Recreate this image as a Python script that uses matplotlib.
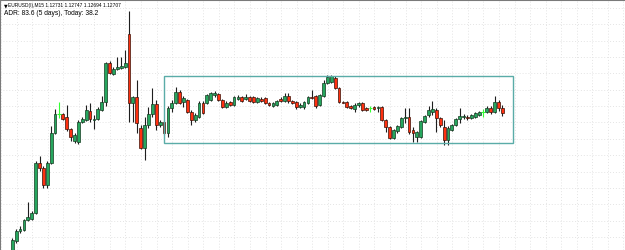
import matplotlib
matplotlib.use("Agg")
import matplotlib.pyplot as plt
import numpy as np
from matplotlib.patches import Rectangle

# OHLC in points (1 point = 0.00001)
opens = [111992,112067,112117,112122,112172,112177,112207,112457,112432,112347,
         112457,112607,112702,112702,112687,112627,112567,112562,112662,112672,
         112717,112672,112677,112722,112762,112957,112902,112927,112932,112937,
         113102,112757,112787,112632,112532,112647,112702,112752,112647,112662,
         112607,112732,112757,112812,112762,112772,112712,112672,112687,112757,
         112757,112772,112797,112802,112772,112737,112762,112747,112777,112787,
         112777,112787,112787,112762,112777,112782,112757,112742,112747,112777,
         112767,112792,112767,112762,112737,112737,112757,112787,112792,112747,
         112792,112857,112862,112882,112832,112762,112762,112742,112727,112747,
         112757,112732,112732,112737,112732,112737,112672,112637,112582,112617,
         112637,112682,112687,112622,112587,112587,112662,112697,112712,112722,
         112682,112637,112572,112622,112647,112677,112687,112687,112682,112687,
         112697,112712,112712,112732,112712,112762,112731]
highs = [112082,112127,112142,112177,112262,112217,112467,112492,112442,112467,
         112642,112727,112762,112707,112747,112632,112607,112672,112687,112747,
         112757,112697,112737,112792,112962,112967,112937,112987,112987,113022,
         113217,112792,112872,112647,112687,112737,112832,112772,112672,112672,
         112742,112772,112837,112822,112792,112777,112722,112707,112767,112767,
         112802,112812,112817,112807,112777,112767,112767,112792,112797,112792,
         112802,112792,112792,112787,112787,112787,112762,112762,112772,112787,
         112807,112807,112772,112767,112757,112767,112792,112822,112797,112802,
         112872,112897,112897,112892,112837,112767,112767,112747,112757,112762,
         112762,112737,112742,112742,112742,112742,112677,112642,112627,112647,
         112687,112732,112732,112637,112617,112672,112697,112742,112767,112732,
         112687,112672,112642,112652,112682,112732,112702,112697,112702,112712,
         112717,112727,112742,112742,112792,112772,112747]
lows = [111982,112057,112107,112117,112167,112172,112202,112417,112332,112332,
        112452,112602,112682,112672,112617,112567,112557,112552,112657,112667,
        112662,112627,112672,112717,112742,112902,112897,112922,112927,112932,
        112662,112662,112607,112527,112472,112632,112687,112622,112637,112597,
        112587,112712,112752,112752,112737,112707,112647,112662,112682,112702,
        112752,112767,112787,112767,112732,112732,112742,112742,112772,112762,
        112772,112762,112757,112757,112762,112752,112742,112737,112742,112762,
        112762,112757,112752,112727,112732,112727,112752,112777,112732,112742,
        112787,112852,112857,112827,112757,112757,112732,112727,112712,112737,
        112717,112717,112712,112722,112712,112667,112612,112577,112577,112607,
        112632,112657,112602,112562,112562,112582,112657,112687,112697,112612,
        112637,112547,112547,112617,112642,112657,112677,112672,112677,112682,
        112692,112687,112707,112702,112707,112717,112694]
closes = [112072,112117,112127,112172,112187,112207,112457,112432,112347,112457,
          112607,112702,112702,112677,112627,112587,112597,112662,112677,112722,
          112677,112677,112727,112762,112957,112907,112927,112937,112942,112957,
          112757,112787,112657,112532,112647,112702,112752,112647,112662,112607,
          112732,112757,112812,112757,112782,112712,112672,112697,112757,112707,
          112797,112807,112807,112772,112737,112757,112747,112787,112787,112767,
          112787,112767,112762,112782,112767,112757,112747,112757,112767,112767,
          112792,112767,112757,112737,112747,112762,112787,112782,112742,112797,
          112857,112887,112892,112832,112762,112757,112737,112732,112747,112757,
          112722,112722,112732,112727,112737,112672,112637,112582,112622,112642,
          112682,112687,112612,112607,112612,112667,112692,112722,112727,112682,
          112647,112572,112632,112647,112677,112692,112692,112682,112697,112707,
          112712,112712,112732,112712,112762,112732,112707]

header_line1 = "EURUSD(I),M15 1.12731 1.12747 1.12694 1.12707"
header_line2 = "ADR: 83.6 (5 days), Today: 38.2"

# Rectangle object (bar index / price points)
box_x0, box_x1 = 39.1, 128.75
box_p0, box_p1 = 112557, 112893

o = np.array(opens) / 1e5
h = np.array(highs) / 1e5
l = np.array(lows) / 1e5
c = np.array(closes) / 1e5
idx = np.arange(len(o))

fig = plt.figure(figsize=(6.25, 2.5), dpi=100)
ax = fig.add_axes([0, 0, 1, 1])
ax.set_xlim(-3.16, 157.5)
ax.set_ylim(1.12022, 1.13272)

# grid
for gx in np.arange(-3, 160, 4) + 0.1:
    ax.axvline(gx, color="#e4e4e4", lw=0.7, ls=(0, (1, 2)), zorder=0)
gstep = 0.0008175
for gy in 1.13232 - gstep * np.arange(0, 16):
    ax.axhline(gy, color="#e4e4e4", lw=0.7, ls=(0, (1, 2)), zorder=0)

up = c > o
dn = c < o
dj = c == o
green = "#26a65e"
red = "#ff3010"
wick = "#1e1e1e"

ax.vlines(idx[~dj], l[~dj], h[~dj], color=wick, lw=0.8, zorder=2)
ax.bar(idx[up], (c - o)[up], bottom=o[up], width=0.72, color=green,
       edgecolor="#143a20", linewidth=0.5, zorder=3)
ax.bar(idx[dn], (o - c)[dn], bottom=c[dn], width=0.72, color=red,
       edgecolor="#3a1208", linewidth=0.5, zorder=3)
ax.vlines(idx[dj], l[dj], h[dj], color="#33ff33", lw=0.8, zorder=3)
ax.hlines(o[dj], idx[dj] - 0.4, idx[dj] + 0.4, color="#33ff33", lw=0.8, zorder=3)

ax.add_patch(Rectangle((box_x0, box_p0 / 1e5), box_x1 - box_x0, (box_p1 - box_p0) / 1e5,
                       fill=False, edgecolor="#5aaca8", lw=1.0, zorder=4))

for s in ["right", "bottom"]:
    ax.spines[s].set_visible(False)
for s in ["left", "top"]:
    ax.spines[s].set_color("#7a7a7a")
    ax.spines[s].set_linewidth(1.5)
ax.set_xticks([])
ax.set_yticks([])

fam = ["Liberation Sans", "DejaVu Sans"]
ax.text(0.006, 0.978, "\u25bc", transform=ax.transAxes, fontsize=3.4,
        family=["DejaVu Sans"], color="#000000", va="center", ha="left")
ax.text(0.0125, 0.978, header_line1, transform=ax.transAxes, fontsize=3.5,
        family=fam, color="#000000", va="center", ha="left")
ax.text(0.006, 0.946, header_line2, transform=ax.transAxes, fontsize=4.75,
        family=fam, color="#000000", va="center", ha="left")

fig.savefig("out.png", dpi=100, facecolor="white")
